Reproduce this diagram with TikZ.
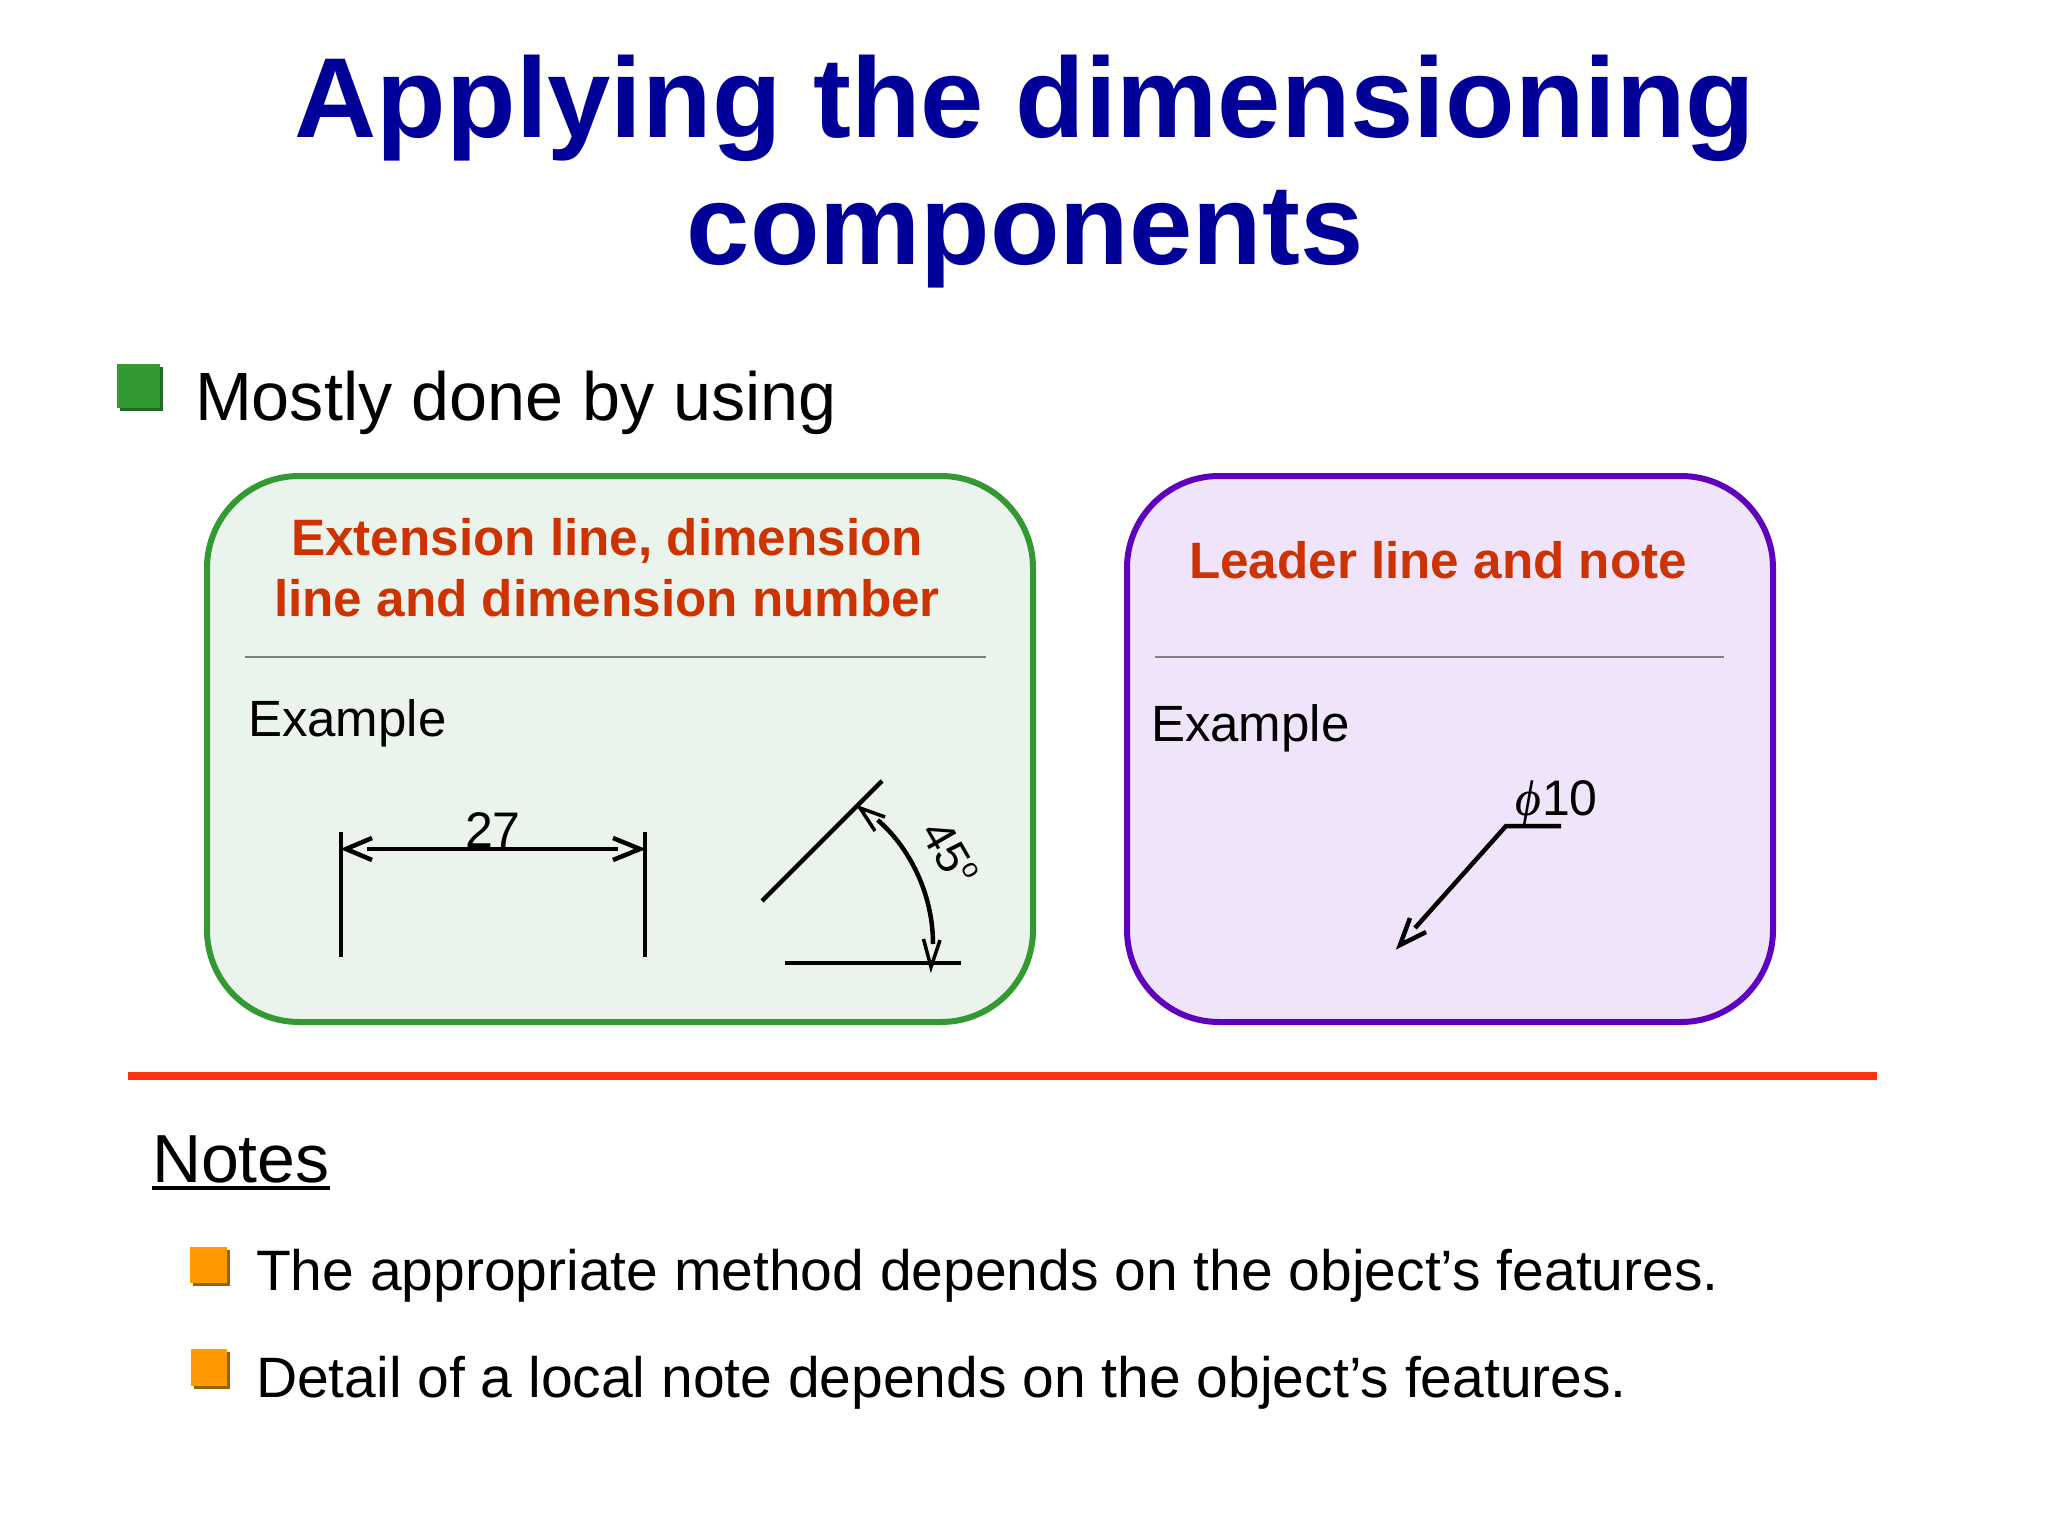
\documentclass[tikz,border=0pt]{standalone}
\usepackage{fontspec}
\setmainfont{Liberation Sans}
\newfontfamily\phifont{Liberation Serif}
\definecolor{titleblue}{HTML}{000099}
\definecolor{headred}{HTML}{CC3300}
\definecolor{greenline}{HTML}{339933}
\definecolor{greenfill}{HTML}{EBF4EC}
\definecolor{purpleline}{HTML}{6000BF}
\definecolor{purplefill}{HTML}{F0E4FA}
\definecolor{ruler}{HTML}{FF3311}
\definecolor{bulgreen}{HTML}{339933}
\definecolor{bulgreendk}{HTML}{1F6B24}
\definecolor{bulor}{HTML}{FF9900}
\definecolor{bulordk}{HTML}{996200}
\newcommand{\fsz}[1]{\fontsize{#1pt}{#1pt}\selectfont}
\tikzset{
  txt/.style={inner sep=0pt,outer sep=0pt,anchor=base west,text=black},
  ctr/.style={inner sep=0pt,outer sep=0pt,anchor=base},
  titletext/.style={ctr,text=titleblue,font=\bfseries\fsz{113.8}},
  headtext/.style={ctr,text=headred,font=\bfseries\fsz{51.2}},
  panel/.style={line width=6pt,rounded corners=92pt},
  divider/.style={draw=black!50,line width=1.2pt},
  ink/.style={draw=black,line width=4.5pt},
  barb/.style={draw=black,line width=4.5pt,line join=miter},
  thinbarb/.style={draw=black,line width=3.5pt,line join=miter},
}
\begin{document}
\begin{tikzpicture}[x=1pt,y=-1pt]
\useasboundingbox[fill=white] (0,0) rectangle (2048,1536);
% title
\node[titletext] (t1) at (1025,138) {Applying the dimensioning};
\node[titletext] (t2) at (1025,264) {components};
% first bullet
\fill[bulgreendk] (120,367) rectangle (163,411);
\fill[bulgreen] (117,364) rectangle (160,408);
\node[txt,font=\fsz{68.3}] (lead) at (195,420) {Mostly done by using};
% panels
\draw[panel,draw=greenline,fill=greenfill] (207,476) rectangle (1033,1022);
\draw[panel,draw=purpleline,fill=purplefill] (1127,476) rectangle (1773,1022);
\node[headtext] (h1) at (607,555) {Extension line, dimension};
\node[headtext] (h2) at (607,616) {line and dimension number};
\node[headtext] (h3) at (1438,578) {Leader line and note};
\coordinate (d1a) at (245,657); \coordinate (d1b) at (986,657);
\coordinate (d2a) at (1155,657); \coordinate (d2b) at (1724,657);
\draw[divider] (d1a) -- (d1b);
\draw[divider] (d2a) -- (d2b);
\node[txt,font=\fsz{51}] (ex1) at (248,736) {Example};
\node[txt,font=\fsz{51}] (ex2) at (1151,741) {Example};
% linear dimension
\coordinate (e1a) at (341,832); \coordinate (e1b) at (341,957);
\coordinate (e2a) at (645,832); \coordinate (e2b) at (645,957);
\coordinate (dl) at (367,849); \coordinate (dr) at (618,849);
\node[ctr,font=\fsz{50}] (n27) at (493,847) {27};
\draw[ink] (e1a) -- (e1b);
\draw[ink] (e2a) -- (e2b);
\draw[ink] (dl) -- (dr);
\coordinate (tl) at (346,849); \coordinate (tr) at (640,849);
\draw[barb] (372,838) -- (tl) -- (372,860);
\draw[barb] (613,838) -- (tr) -- (613,860);
% angular dimension
\coordinate (a1) at (762,901); \coordinate (a2) at (882,781);
\coordinate (b1) at (785,963); \coordinate (b2) at (961,963);
\draw[ink] (a1) -- (a2);
\draw[ink] (b1) -- (b2);
\coordinate (arcS) at (877.6,820); \coordinate (arcE) at (933,944);
\draw[ink] (arcS) .. controls (908,846) and (933,892) .. (arcE);
\coordinate (arcTipA) at (860,808); \coordinate (arcTipB) at (931,967);
\draw[thinbarb] (885,817) -- (arcTipA) -- (875,831);
\draw[thinbarb] (923.5,939) -- (arcTipB) -- (940,940);
\node[inner sep=0pt,font=\fsz{46},rotate=-60] (n45) at (950,853) {45\raisebox{0.38em}{\fsz{27}o}};
% leader
\coordinate (k) at (1506,826); \coordinate (kEnd) at (1561,826);
\coordinate (lS) at (1415,928); \coordinate (lT) at (1400,945);
\draw[ink,line join=miter] (kEnd) -- (k) -- (lS);
\draw[barb] (1410,918) -- (lT) -- (1426,932);
\node[txt,font=\fsz{50}] (n10) at (1542,815) {10};
\node[anchor=base east,inner sep=0pt,font=\phifont\itshape\fsz{50}] (nphi) at (1542,815) {ϕ};
% rule
\coordinate (r1) at (128,1076); \coordinate (r2) at (1877,1076);
\draw[ruler,line width=8.3pt] (r1) -- (r2);
% notes
\node[txt,font=\fsz{68}] (notes) at (152,1182) {Notes};
\draw[ink] ([yshift=-6pt]notes.base west) -- ([yshift=-6pt]notes.base east);
\fill[bulordk] (193,1250) rectangle (230,1286);
\fill[bulor] (190,1247) rectangle (227,1283);
\fill[bulordk] (194,1352) rectangle (230,1389);
\fill[bulor] (191,1349) rectangle (227,1386);
\node[txt,font=\fsz{57}] (n1) at (256,1290) {The appropriate method depends on the object’s features.};
\node[txt,font=\fsz{57}] (n2) at (256,1397) {Detail of a local note depends on the object’s features.};
\end{tikzpicture}
\end{document}
